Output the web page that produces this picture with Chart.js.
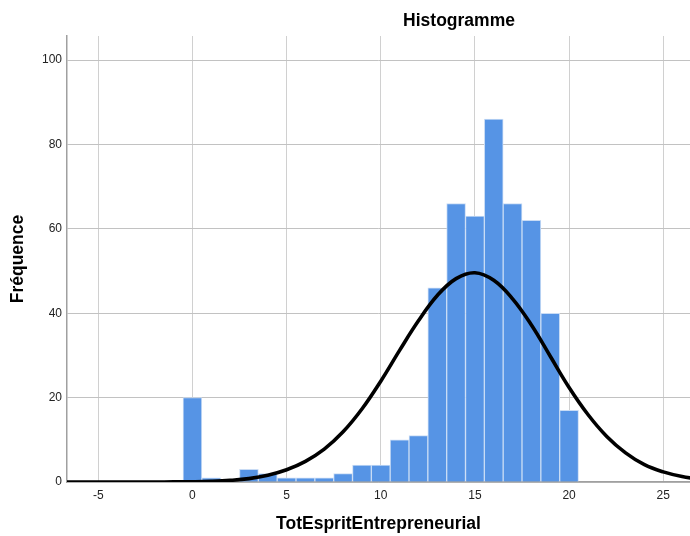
<!DOCTYPE html>
<html>
<head>
<meta charset="utf-8">
<script src="https://cdn.jsdelivr.net/npm/chart.js@4.4.1/dist/chart.umd.min.js"></script>
<style>
  html, body { margin: 0; padding: 0; background: #ffffff; }
  #wrap { width: 690px; height: 536px; }
</style>
</head>
<body>
<div id="wrap"><canvas id="c" width="690" height="536"></canvas></div>
<script>
// ---- Data ----
const chartTitle = 'Histogramme';
const xAxisTitle = 'TotEspritEntrepreneurial';
const yAxisTitle = 'Fréquence';

// Histogram bins (bin centres) and their frequencies
const binCenters  = [0, 1, 2, 3, 4, 5, 6, 7, 8, 9, 10, 11, 12, 13, 14, 15, 16, 17, 18, 19, 20];
const frequencies = [20, 1, 0, 3, 2, 1, 1, 1, 2, 4, 4, 10, 11, 46, 66, 63, 86, 66, 62, 40, 17];

// Normal curve, points
const curveX = [-7, -6, -5, -4, -3, -2, -1, 0, 1, 2, 3, 4, 5, 6, 7, 8, 9, 10, 11, 12, 13, 14, 15, 16, 17, 18, 19, 20, 21, 22, 23, 24, 25, 26, 27];
const curveY = [0, 0, 0, 0, 0, 0.01, 0.02, 0.06, 0.16, 0.38, 0.8, 1.6, 2.9, 4.9, 7.8, 11.9, 17.3, 23.9, 31.2, 38.2, 44.2, 48.2, 49.6, 47.8, 43.4, 37.2, 29.8, 22.4, 16.0, 10.8, 6.9, 4.1, 2.4, 1.3, 0.65];

// Axis ranges and tick labels
const xRange = [-6.66, 26.42];
const xTickStep = 5;
const yRange = [0, 105.7];
const yTickStep = 20;

// ---- Chart ----
const FONT = '"Liberation Sans", Arial, Helvetica, sans-serif';

const titlePlugin = {
  id: 'spssTitle',
  afterDraw(chart) {
    const ctx = chart.ctx;
    ctx.save();
    ctx.font = 'bold 17.5px ' + FONT;
    ctx.fillStyle = '#000000';
    ctx.textAlign = 'center';
    ctx.textBaseline = 'middle';
    ctx.fillText(chartTitle, 459, 21);
    ctx.restore();
  }
};

const bgPlugin = {
  id: 'bg',
  beforeDraw(chart) {
    const ctx = chart.ctx;
    ctx.save();
    ctx.fillStyle = '#ffffff';
    ctx.fillRect(0, 0, chart.width, chart.height);
    ctx.restore();
  }
};

new Chart(document.getElementById('c'), {
  type: 'bar',
  data: {
    datasets: [
      {
        type: 'line',
        label: 'Normal',
        data: curveX.map((x, i) => ({ x: x, y: curveY[i] })),
        borderColor: '#000000',
        borderWidth: 3.6,
        pointRadius: 0,
        fill: false,
        tension: 0.4,
        order: 0
      },
      {
        type: 'bar',
        label: 'Fréquence',
        data: binCenters.map((x, i) => ({ x: x, y: frequencies[i] })),
        backgroundColor: '#5694e5',
        borderColor: '#c9dcf5',
        borderWidth: 1,
        barPercentage: 1.0,
        categoryPercentage: 1.0,
        order: 1
      }
    ]
  },
  options: {
    responsive: false,
    animation: false,
    layout: { padding: { top: 36, right: 0, left: 0, bottom: 0 } },
    plugins: {
      legend: { display: false },
      tooltip: { enabled: false },
      title: { display: false }
    },
    scales: {
      x: {
        type: 'linear',
        min: xRange[0],
        max: xRange[1],
        offset: false,
        afterFit: (s) => { s.height = 54; },
        ticks: {
          stepSize: xTickStep,
          includeBounds: false,
          color: '#222222',
          font: { family: FONT, size: 12 },
          padding: 6,
          maxRotation: 0
        },
        grid: { color: '#d0d0d0', lineWidth: 1, drawTicks: false, offset: false },
        border: { color: '#a0a0a0', width: 1.5 },
        title: {
          display: true,
          text: xAxisTitle,
          color: '#000000',
          font: { family: FONT, size: 17.5, weight: 'bold' },
          padding: { top: 0, bottom: 1 }
        }
      },
      y: {
        min: yRange[0],
        max: yRange[1],
        afterFit: (s) => { s.width = 67; },
        ticks: {
          stepSize: yTickStep,
          includeBounds: false,
          color: '#222222',
          font: { family: FONT, size: 12 },
          padding: 5
        },
        grid: { color: '#c2c2c2', lineWidth: 1, drawTicks: false },
        border: { color: '#a0a0a0', width: 1.5 },
        title: {
          display: true,
          text: yAxisTitle,
          color: '#000000',
          font: { family: FONT, size: 17.5, weight: 'bold' },
          padding: { top: 8, bottom: 0 }
        }
      }
    }
  },
  plugins: [bgPlugin, titlePlugin]
});
</script>
</body>
</html>
